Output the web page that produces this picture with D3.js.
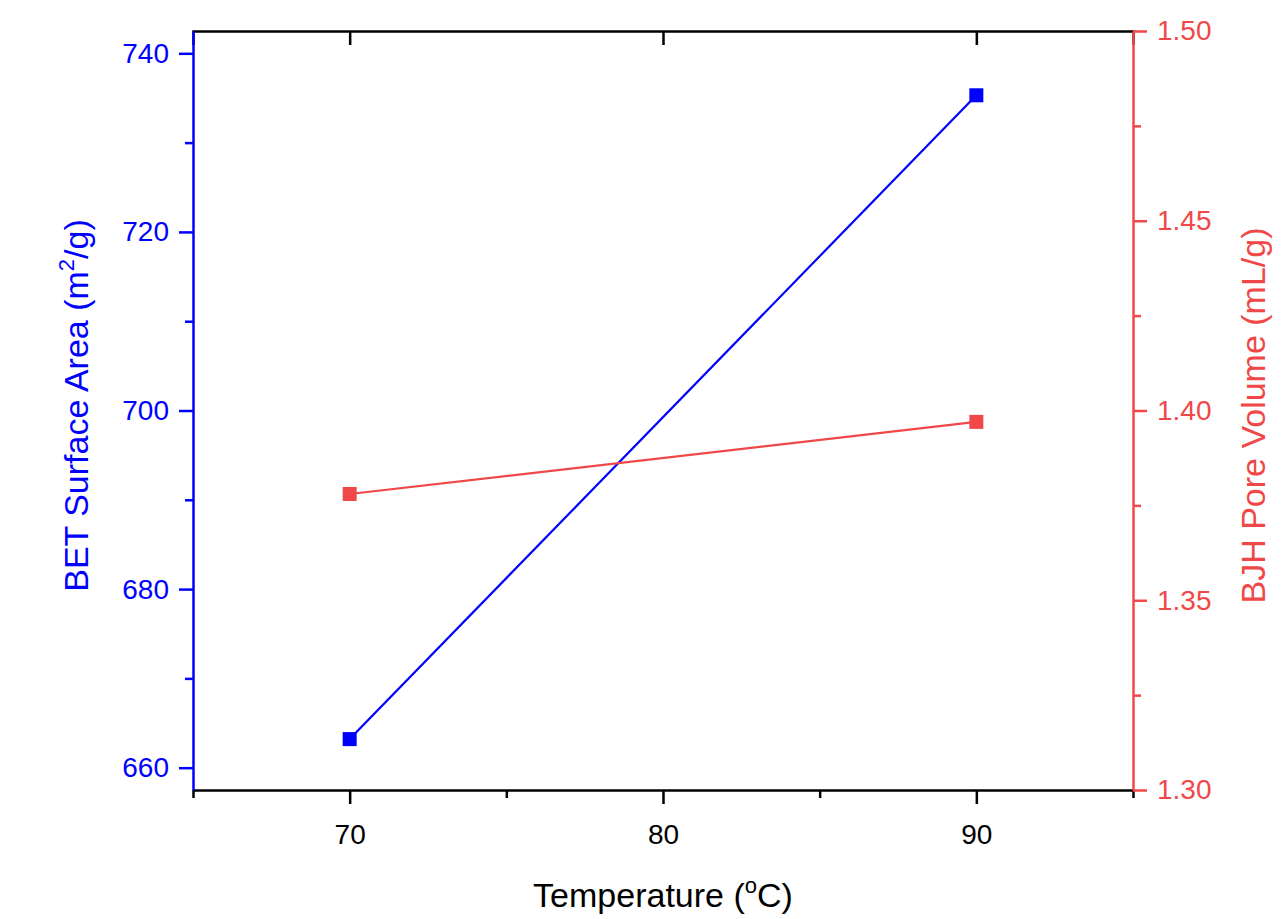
<!DOCTYPE html>
<html><head><meta charset="utf-8">
<script src="https://cdn.jsdelivr.net/npm/d3@7"></script>
<style>body{margin:0;background:#fff}text{font-family:Arial,"Liberation Sans",sans-serif}</style>
</head><body><svg id="chart" width="1287" height="919"></svg>
<script>
let temps = [70, 90]
let betArea = [663.2, 735.3]
let bjhVolume = [1.378, 1.397]
let xTicks = [70, 80, 90]
let xMinor = [65, 75, 85, 95]
let leftTicks = [660, 680, 700, 720, 740]
let leftMinor = [670, 690, 710, 730]
let rightTicks = [1.30, 1.35, 1.40, 1.45, 1.50]
let rightMinor = [1.325, 1.375, 1.425, 1.475]

let margin = { left: 193, top: 31, right: 154, bottom: 129 }
let width = 1287 - margin.left - margin.right
let height = 919 - margin.top - margin.bottom
let blue = "#0000ff", red = "#f04848"

let svg = d3.select("#chart")
let g = svg.append("g").attr("transform", `translate(${margin.left},${margin.top})`)

let x = d3.scaleLinear().domain([65, 95]).range([0, width])
let yL = d3.scaleLinear().domain([657.5, 742.5]).range([height, 0])
let yR = d3.scaleLinear().domain([1.30, 1.50]).range([height, 0])

let styleAxis = function (sel, color) {
    sel.attr("font-size", null).attr("font-family", null)
    sel.selectAll("path,line").attr("stroke", color).attr("stroke-width", 2.5)
    sel.selectAll("text").attr("fill", color).style("font-size", "28px")
}

// minor ticks first
g.append("g").attr("transform", `translate(0,${height})`)
    .call(d3.axisBottom(x).tickValues(xMinor).tickSize(8).tickFormat(""))
    .call(s => { s.select(".domain").remove(); styleAxis(s, "#000") })
g.append("g").attr("transform", `translate(0,0)`)
    .call(d3.axisBottom(x).tickValues(xTicks).tickSize(14).tickFormat(""))
    .call(s => { styleAxis(s, "#000") })
g.append("g").call(d3.axisLeft(yL).tickValues(leftMinor).tickSize(8).tickFormat(""))
    .call(s => { s.select(".domain").remove(); styleAxis(s, blue) })
g.append("g").attr("transform", `translate(${width},0)`)
    .call(d3.axisRight(yR).tickValues(rightMinor).tickSize(8).tickFormat(""))
    .call(s => { s.select(".domain").remove(); styleAxis(s, red) })

g.append("g").attr("transform", `translate(0,${height})`)
    .call(d3.axisBottom(x).tickValues(xTicks).tickSize(14).tickPadding(20).tickSizeOuter(0))
    .call(s => styleAxis(s, "#000"))
g.append("g")
    .call(d3.axisLeft(yL).tickValues(leftTicks).tickSize(14).tickPadding(10).tickSizeOuter(0))
    .call(s => styleAxis(s, blue))
g.append("g").attr("transform", `translate(${width},0)`)
    .call(d3.axisRight(yR).tickValues(rightTicks).tickSize(14).tickPadding(10).tickSizeOuter(0).tickFormat(d3.format(".2f")))
    .call(s => styleAxis(s, red))

let blueData = temps.map((t, i) => ({ t: t, v: betArea[i] }))
let redData = temps.map((t, i) => ({ t: t, v: bjhVolume[i] }))

g.append("path").datum(blueData).attr("fill", "none").attr("stroke", blue).attr("stroke-width", 2.2)
    .attr("d", d3.line().x(d => x(d.t)).y(d => yL(d.v)))
g.selectAll(".pb").data(blueData).join("rect").attr("fill", blue)
    .attr("x", d => x(d.t) - 7).attr("y", d => yL(d.v) - 7).attr("width", 14).attr("height", 14)
g.append("path").datum(redData).attr("fill", "none").attr("stroke", red).attr("stroke-width", 2.2)
    .attr("d", d3.line().x(d => x(d.t)).y(d => yR(d.v)))
g.selectAll(".pr").data(redData).join("rect").attr("fill", red)
    .attr("x", d => x(d.t) - 7).attr("y", d => yR(d.v) - 7).attr("width", 14).attr("height", 14)

// titles
let xt = svg.append("text").attr("x", margin.left + width / 2).attr("y", 907).attr("text-anchor", "middle")
    .attr("font-size", 34).attr("fill", "#000")
xt.append("tspan").text("Temperature (")
xt.append("tspan").text("o").attr("font-size", 22).attr("dy", -14)
xt.append("tspan").text("C)").attr("dy", 14)

let lt = svg.append("text").attr("transform", `translate(88,${margin.top + height / 2 - 5}) rotate(-90)`)
    .attr("text-anchor", "middle").attr("font-size", 34).attr("fill", blue)
lt.append("tspan").text("BET Surface Area (m")
lt.append("tspan").text("2").attr("font-size", 22).attr("dy", -14)
lt.append("tspan").text("/g)").attr("dy", 14)

svg.append("text").attr("transform", `translate(1265,${margin.top + height / 2 + 5}) rotate(-90)`)
    .attr("text-anchor", "middle").attr("font-size", 34).attr("fill", red)
    .text("BJH Pore Volume (mL/g)")
</script></body></html>
